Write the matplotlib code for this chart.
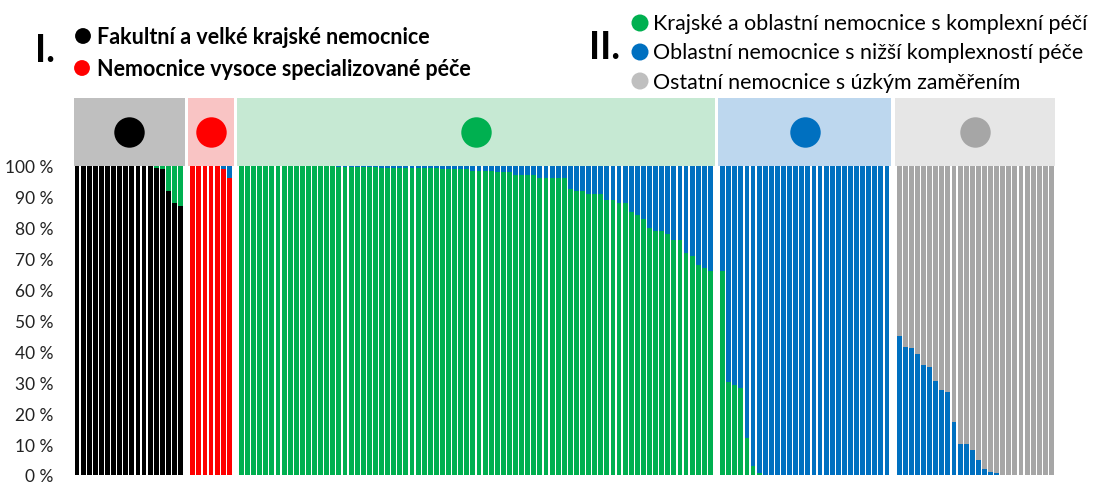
import numpy as np
import matplotlib.pyplot as plt
from matplotlib.patches import Rectangle

plt.rcParams['font.family'] = ['Lato', 'DejaVu Sans']

# share of the group's own colour in each hospital bar (%)
black_share = [100, 100, 100, 100, 100, 100, 100, 100, 100, 100, 100, 100, 100,
               99.5, 99, 92, 88, 87]
red_share = [100, 100, 100, 100, 100, 99, 96]
green_share = [100, 100, 100, 100, 100, 100, 100, 100, 100, 100, 100, 100, 100, 100, 100, 100,
               99.7, 99.7, 99.7, 99.7, 99.7, 99.7, 99.7,
               99.2, 99.2, 99.2, 99.2, 99.2, 99.2, 99.2, 99.2, 99.2, 99.2, 99, 99, 99, 99, 99,
               98.5, 98.5, 98.5, 98.5, 98.2, 98.2, 98.2,
               97, 97, 97, 97, 96, 96, 96, 96, 96,
               92.5, 92, 92, 91, 91, 91, 89, 89, 88, 88,
               85, 84, 83, 80, 79, 79, 78, 76, 76, 72, 71, 68, 67, 66]
# blue group: green share at the bottom of each bar
blue_green = [66, 30, 29, 28, 12, 3, 0.5, 0, 0, 0, 0, 0, 0, 0, 0, 0, 0, 0, 0, 0, 0,
              0, 0, 0, 0, 0, 0, 0]
# gray group: blue share at the bottom of each bar
gray_blue = [45, 41.5, 41, 39, 35.5, 35, 30.5, 27.5, 27, 17, 10, 10, 8, 5, 2, 1, 0.5,
             0, 0, 0, 0, 0, 0, 0, 0, 0]

yticks = [0, 10, 20, 30, 40, 50, 60, 70, 80, 90, 100]

BLACK = '#000000'
RED = '#ff0000'
GREEN = '#00b050'
BLUE = '#0070c0'
GRAY = '#a6a6a6'

# (bottom values, bottom colour, top colour, band colour, dot colour)
groups = [
    (black_share, BLACK, GREEN, '#bfbfbf', BLACK),
    (red_share, RED, BLUE, '#f9c4c4', RED),
    (green_share, GREEN, BLUE, '#c6e9d3', GREEN),
    (blue_green, GREEN, BLUE, '#bdd7ee', BLUE),
    (gray_blue, BLUE, GRAY, '#e6e6e6', GRAY),
]

fig = plt.figure(figsize=(11.17, 4.89), dpi=100)
ax = fig.add_axes([74 / 1117, 13 / 489, 980.5 / 1117, 377 / 489])

pos = 0
for vals, c_bot, c_top, band, dot in groups:
    vals = np.array(vals, dtype=float)
    x = np.arange(pos, pos + len(vals))
    ax.bar(x, vals, width=0.8, color=c_bot, linewidth=0)
    ax.bar(x, 100 - vals, bottom=vals, width=0.8, color=c_top, linewidth=0)
    ax.add_patch(Rectangle((x[0] - 0.7, 100), len(vals) + 0.4, 22,
                           facecolor=band, edgecolor='none', zorder=0))
    ax.scatter([x.mean()], [111], s=480, color=dot, zorder=3, linewidths=0)
    pos += len(vals) + 1

ax.set_xlim(-0.5, pos - 1 - 0.5)
ax.set_ylim(0, 122)
ax.set_xticks([])
ax.set_yticks(yticks)
ax.set_yticklabels([f'{v} %' for v in yticks], fontsize=12.5, color='#222222')
ax.tick_params(axis='y', length=0, pad=15)
for s in ax.spines.values():
    s.set_visible(False)

# legend drawn on an overlay in pixel coordinates
ov = fig.add_axes([0, 0, 1, 1], facecolor='none')
ov.set_xlim(0, 1117)
ov.set_ylim(489, 0)
ov.axis('off')

ov.text(45, 51, 'I.', fontsize=27, fontweight='bold', ha='center', va='center')
ov.scatter([83, 82], [37, 69], s=130, color=[BLACK, RED], linewidths=0)
ov.text(97, 37, 'Fakultní a velké krajské nemocnice', fontsize=15.5,
        fontweight='bold', va='center')
ov.text(97, 69, 'Nemocnice vysoce specializované péče', fontsize=15.5,
        fontweight='bold', va='center')

ov.text(605, 48, 'II.', fontsize=27, fontweight='bold', ha='center', va='center')
ov.scatter([640, 640, 640], [24, 53, 82], s=150, color=[GREEN, BLUE, '#bfbfbf'],
           linewidths=0)
ov.text(653, 24, 'Krajské a oblastní nemocnice s komplexní péčí', fontsize=15.4,
        va='center')
ov.text(653, 53, 'Oblastní nemocnice s nižší komplexností péče', fontsize=15.4,
        va='center')
ov.text(653, 83, 'Ostatní nemocnice s úzkým zaměřením', fontsize=15.4, va='center')

fig.savefig('out.png', dpi=100)
